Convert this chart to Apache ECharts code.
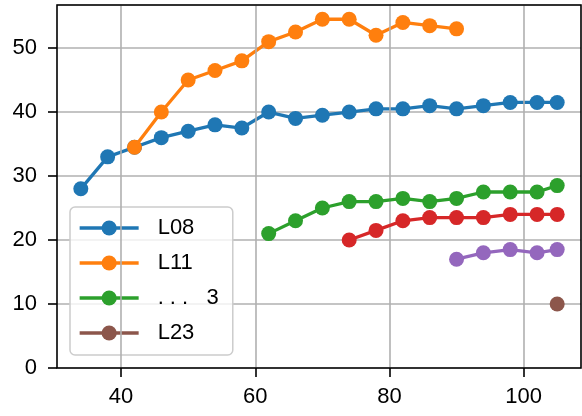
<!DOCTYPE html>
<html><head><meta charset="utf-8">
<script src="https://cdn.jsdelivr.net/npm/echarts@6/dist/echarts.min.js"></script>
<style>html,body{margin:0;padding:0;background:#fff}#c{width:582px;height:416px}</style>
</head><body><div id="c"></div>
<script>
const xL08 = [34,38,42,46,50,54,58,62,66,70,74,78,82,86,90,94,98,102,105];
const yL08 = [28,33,34.5,36,37,38,37.5,40,39,39.5,40,40.5,40.5,41,40.5,41,41.5,41.5,41.5];
const xL11 = [42,46,50,54,58,62,66,70,74,78,82,86,90];
const yL11 = [34.5,40,45,46.5,48,51,52.5,54.5,54.5,52,54,53.5,53];
const xG = [62,66,70,74,78,82,86,90,94,98,102,105];
const yG = [21,23,25,26,26,26.5,26,26.5,27.5,27.5,27.5,28.5];
const xR = [74,78,82,86,90,94,98,102,105];
const yR = [20,21.5,23,23.5,23.5,23.5,24,24,24];
const xP = [90,94,98,102,105];
const yP = [17,18,18.5,18,18.5];
const xL23 = [105];
const yL23 = [10];
const xTicks = [40,60,80,100];
const yTicks = [0,10,20,30,40,50];
const names = ['L08','L11','. . .   3','_r','_p','L23'];
const legendNames = ['L08','L11','. . .   3','L23'];
const colors = ['#1f77b4','#ff7f0e','#2ca02c','#d62728','#9467bd','#8c564b'];
const xs = [xL08,xL11,xG,xR,xP,xL23];
const ys = [yL08,yL11,yG,yR,yP,yL23];
const FONT = '"Liberation Sans", Arial, sans-serif';
const chart = echarts.init(document.getElementById('c'), null, {renderer:'canvas'});
const series = xs.map((x,i)=>({
  name: names[i], type:'line', data: x.map((v,j)=>[v, ys[i][j]]),
  symbol:'circle', symbolSize:15, showSymbol:true,
  itemStyle:{color:colors[i], borderWidth:0}, lineStyle:{color:colors[i], width:3.3},
  emphasis:{disabled:true}, animation:false, z: 3+i
}));
series.push({type:'line', data:[], silent:true, animation:false,
  markLine:{silent:true, symbol:['none','none'], label:{show:false},
    lineStyle:{color:'#b0b0b0', width:1.6, type:'solid'},
    data: xTicks.map(v=>({xAxis:v}))}});
chart.setOption({
  animation:false,
  grid:{left:57, right:1, top:5, bottom:48, show:true, borderColor:'#000', borderWidth:1.6, backgroundColor:'transparent', z:10},
  xAxis:{type:'value', min:30.45, max:108.55,
    axisLine:{show:false},
    axisTick:{show:true, length:9, lineStyle:{color:'#000', width:1.6}, customValues:xTicks},
    axisLabel:{color:'#000', fontSize:22, fontFamily:FONT, margin:18, customValues:xTicks},
    splitLine:{show:false}},
  yAxis:{type:'value', min:0, max:56.725, interval:10,
    axisLine:{show:false},
    axisTick:{show:true, length:9, lineStyle:{color:'#000', width:1.6}},
    axisLabel:{color:'#000', fontSize:22, fontFamily:FONT, margin:20, showMaxLabel:false,
      formatter:v=> yTicks.includes(v)? String(v):''},
    splitLine:{show:true, lineStyle:{color:'#b0b0b0', width:1.6}}},
  legend:{data:legendNames, orient:'vertical', left:70, top:207,
    backgroundColor:'rgba(255,255,255,0.8)', borderColor:'#cccccc', borderWidth:1.5, borderRadius:5,
    padding:[10,14,11,8], itemWidth:59, itemHeight:19, itemGap:13,
    lineStyle:{width:3.3},
    textStyle:{color:'#000', fontSize:22, fontFamily:FONT, padding:[0,0,0,14]}},
  series
});
</script></body></html>
